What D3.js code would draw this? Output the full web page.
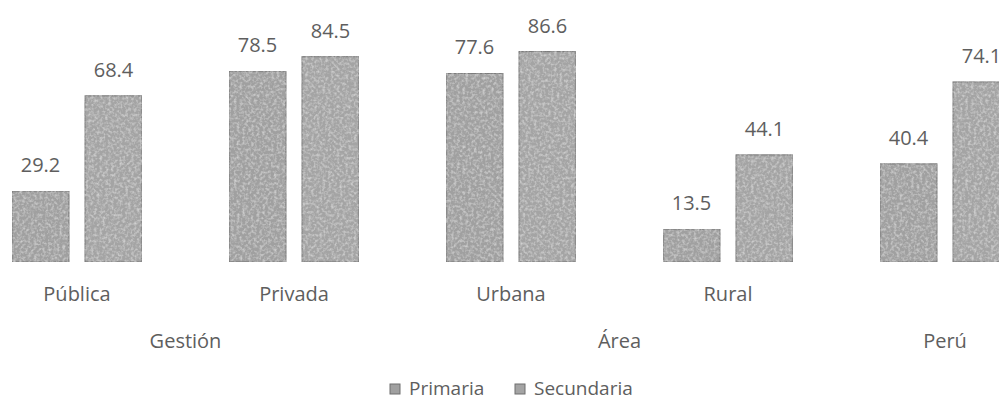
<!DOCTYPE html>
<html>
<head>
<meta charset="utf-8">
<script src="https://cdn.jsdelivr.net/npm/d3@7"></script>
<style>
  html, body { margin: 0; padding: 0; background: #ffffff; }
  svg { display: block; }
  text { font-family: "Open Sans", "Noto Sans", sans-serif; fill: #5e5e5e; }
</style>
</head>
<body>
<svg id="chart" width="999" height="401"></svg>
<script>
// Categories, grouped under their parent heading
const categories = ["Pública", "Privada", "Urbana", "Rural", "Perú"];
const groups = [
  { name: "Gestión", members: ["Pública", "Privada"] },
  { name: "Área", members: ["Urbana", "Rural"] },
  { name: "Perú", members: ["Perú"] }
];
const series = ["Primaria", "Secundaria"];
const primaria = [29.2, 78.5, 77.6, 13.5, 40.4];
const secundaria = [68.4, 84.5, 86.6, 44.1, 74.1];

const values = { Primaria: primaria, Secundaria: secundaria };

const svg = d3.select("#chart");

// Noise texture for the bar fill
const defs = svg.append("defs");
const grain = defs.append("filter").attr("id", "grain")
  .attr("x", 0).attr("y", 0).attr("width", 1).attr("height", 1);
grain.append("feTurbulence").attr("type", "fractalNoise")
  .attr("baseFrequency", 0.35).attr("numOctaves", 2).attr("seed", 4).attr("result", "noise");
grain.append("feColorMatrix").attr("in", "noise").attr("type", "matrix")
  .attr("values", "0 0 0 0 1  0 0 0 0 1  0 0 0 0 1  0 0 0 0.9 -0.38")
  .attr("result", "specks");
grain.append("feComposite").attr("in", "specks").attr("in2", "SourceGraphic")
  .attr("operator", "in").attr("result", "clipped");
grain.append("feMerge").selectAll("feMergeNode")
  .data(["SourceGraphic", "clipped"]).join("feMergeNode").attr("in", d => d);

// Scales: the plot runs slightly past both edges of the window
const x0 = d3.scaleBand().domain(categories).range([-31.5, 1053.5]).padding(0);
const x1 = d3.scaleBand().domain(series).range([0, x0.bandwidth()])
  .paddingInner(0.219).paddingOuter(0.596);
const y = d3.scaleLinear().domain([0, 100]).range([262, 19]);

const color = d3.scaleOrdinal().domain(series).range(["#a0a0a0", "#a4a4a4"]);

const rows = categories.flatMap((c, i) => series.map(s => ({ cat: c, s, v: values[s][i] })));

svg.append("g").selectAll("rect").data(rows).join("rect")
  .attr("x", d => x0(d.cat) + x1(d.s))
  .attr("y", d => y(d.v))
  .attr("width", x1.bandwidth())
  .attr("height", d => y(0) - y(d.v))
  .attr("fill", d => color(d.s))
  .attr("stroke", "#777777")
  .attr("stroke-width", 1)
  .attr("filter", "url(#grain)");

// Value labels above each bar
svg.append("g").selectAll("text").data(rows).join("text")
  .attr("x", d => x0(d.cat) + x1(d.s) + x1.bandwidth() / 2)
  .attr("y", d => y(d.v) - 19)
  .attr("text-anchor", "middle")
  .attr("font-size", 20)
  .text(d => d.v.toFixed(1));

// Category axis labels
svg.append("g").selectAll("text").data(categories.filter(c => c !== "Perú")).join("text")
  .attr("x", d => x0(d) + x0.bandwidth() / 2)
  .attr("y", 301)
  .attr("text-anchor", "middle")
  .attr("font-size", 20)
  .text(d => d);

// Group headings, centred across their member categories
svg.append("g").selectAll("text").data(groups).join("text")
  .attr("x", g => {
    const first = x0(g.members[0]);
    const last = x0(g.members[g.members.length - 1]) + x0.bandwidth();
    return (first + last) / 2;
  })
  .attr("y", 348)
  .attr("text-anchor", "middle")
  .attr("font-size", 20)
  .text(g => g.name);

// Legend
const legendX = { Primaria: 390, Secundaria: 515 };
const legend = svg.append("g").selectAll("g").data(series).join("g")
  .attr("transform", d => `translate(${legendX[d]},384)`);
legend.append("rect")
  .attr("width", 10).attr("height", 10)
  .attr("fill", d => color(d))
  .attr("stroke", "#6f6f6f").attr("stroke-width", 1);
legend.append("text")
  .attr("x", 19).attr("y", 11)
  .attr("font-size", 19)
  .text(d => d);
</script>
</body>
</html>
